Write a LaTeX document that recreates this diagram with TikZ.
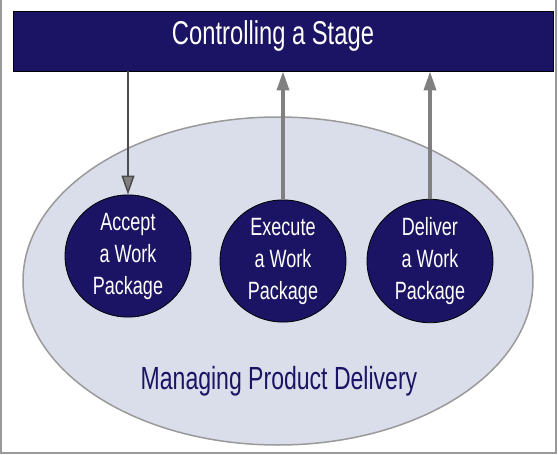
\documentclass[tikz,border=0pt]{standalone}
\usepackage{fontspec}
\setmainfont[FakeStretch=0.72]{Liberation Sans}
\usetikzlibrary{arrows.meta,shapes.geometric}
\definecolor{navy}{HTML}{1B1464}
\definecolor{paleblue}{HTML}{DADDEA}
\definecolor{rimgray}{HTML}{9A9A9A}
\definecolor{arrowgray}{HTML}{808080}
\tikzset{
  stagebox/.style={draw=black, line width=0.8pt, fill=navy, minimum width=540pt, minimum height=60pt, inner sep=0pt},
  process/.style={ellipse, draw=black, line width=0.8pt, fill=navy, minimum width=126pt, minimum height=114pt, inner sep=0pt, text=white, align=center, font=\fontsize{25}{32}\selectfont},
  downarrow/.style={draw=black!70, line width=1.5pt, -{Triangle[length=19pt,width=13pt,fill=arrowgray]}},
  uparrow/.style={draw=arrowgray, line width=3.5pt, -{Triangle[length=19pt,width=12pt]}},
}
\begin{document}
\begin{tikzpicture}[x=1pt,y=-1pt]
\useasboundingbox (0,0) rectangle (558,455);
\fill[white] (0,0) rectangle (558,455);
\draw[rimgray, line width=2pt] (1,0) -- (1,453) -- (556,453) -- (556,0);
\node[ellipse, draw=rimgray, line width=1.5pt, fill=paleblue, minimum width=510pt, minimum height=328pt, inner sep=0pt] (mpd) at (278,281) {};
\node[stagebox] (stage) at (283,41) {};
\node[text=white, font=\fontsize{33}{36}\selectfont, anchor=base] (stagetext) at (273,45) {Controlling a Stage};
\node[process] (acc) at (128,256) {Accept\\a Work\\Package};
\node[process] (exe) at (283,261) {Execute\\a Work\\Package};
\node[process] (del) at (430,261) {Deliver\\a Work\\Package};
\node[text=navy, font=\fontsize{32}{36}\selectfont, anchor=base] (mpdtext) at (279,389) {Managing Product Delivery};
\draw[downarrow] (stage.south -| acc.north) -- (acc.north);
\draw[uparrow] (exe.north) -- (exe.north |- stage.south);
\draw[uparrow] (del.north) -- (del.north |- stage.south);
\end{tikzpicture}
\end{document}
